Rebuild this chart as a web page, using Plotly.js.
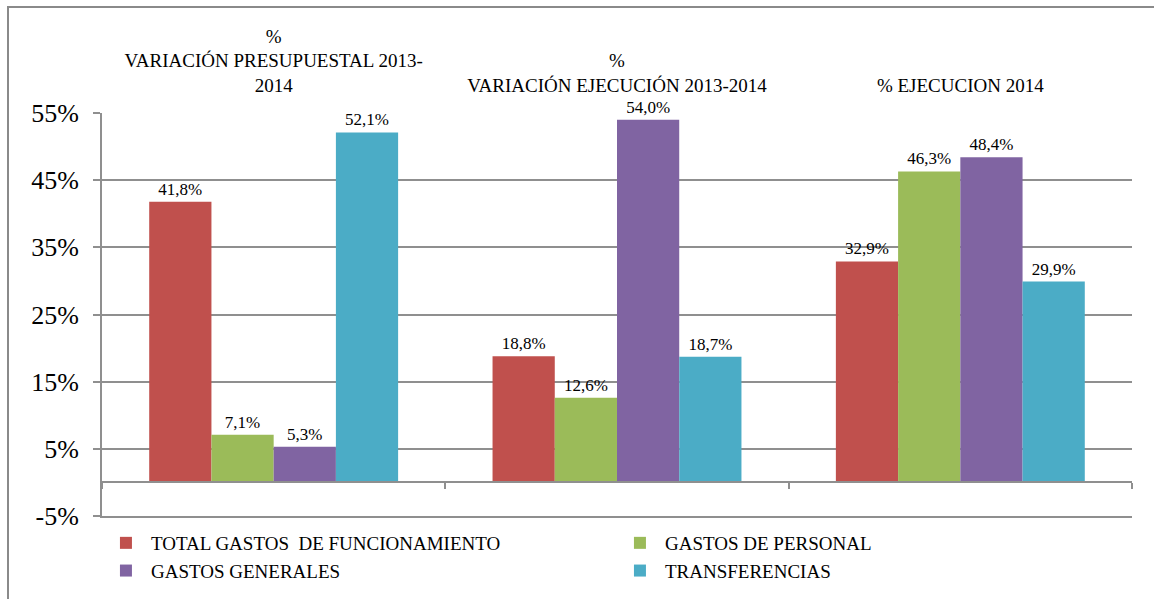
<!DOCTYPE html>
<html>
<head>
<meta charset="utf-8">
<script src="https://cdn.plot.ly/plotly-3.0.1.min.js"></script>
<style>html,body{margin:0;padding:0;background:#fff;}#chart{width:1154px;height:599px;}</style>
</head>
<body>
<div id="chart"></div>
<script>
const categories = [
  "%<br>VARIACIÓN PRESUPUESTAL 2013-<br>2014",
  "%<br>VARIACIÓN EJECUCIÓN 2013-2014",
  "% EJECUCION 2014"
];
const seriesNames = [
  "TOTAL GASTOS \u00a0DE FUNCIONAMIENTO",
  "GASTOS DE PERSONAL",
  "GASTOS GENERALES",
  "TRANSFERENCIAS"
];
const totalFuncionamiento = [41.8, 18.8, 32.9];
const gastosPersonal = [7.1, 12.6, 46.3];
const gastosGenerales = [5.3, 54.0, 48.4];
const transferencias = [52.1, 18.7, 29.9];
const yTickVals = [-5, 5, 15, 25, 35, 45, 55];
const colors = ["#C0504D", "#9BBB59", "#8064A2", "#4BACC6"];

const allValues = [totalFuncionamiento, gastosPersonal, gastosGenerales, transferencias];
const serif = "'Liberation Serif', 'DejaVu Serif', serif";
const gridColor = "#8f8f8f";

// plot area: left 102px, axes end at 1132px; margin.r = 0 so legend pad is 0
const W = 1154, L = 102, PW = W - L;
const xDomain = [0, (1132 - L) / PW];

const traces = allValues.map((vals, i) => ({
  type: "bar",
  name: seriesNames[i],
  x: categories,
  y: vals,
  marker: { color: colors[i], line: { width: 0 } },
  text: vals.map(v => v.toFixed(1).replace(".", ",") + "%"),
  textposition: "outside",
  textfont: { family: serif, size: 17, color: "#000" },
  cliponaxis: false,
  hoverinfo: "skip"
}));
// empty helper traces so the extra axes (bottom line, zero-line ticks) are drawn
traces.push({ type: "scatter", x: [], y: [], xaxis: "x2", yaxis: "y", showlegend: false, hoverinfo: "skip" });
traces.push({ type: "scatter", x: [], y: [], xaxis: "x3", yaxis: "y", showlegend: false, hoverinfo: "skip" });

const layout = {
  width: W,
  height: 599,
  margin: { l: L, r: 0, t: 113, b: 83 },
  paper_bgcolor: "#fff",
  plot_bgcolor: "rgba(0,0,0,0)",
  barmode: "group",
  bargap: 0.275,
  bargroupgap: 0,
  showlegend: true,
  legend: {
    orientation: "h",
    x: -0.001, xanchor: "left",
    y: -(590 - 516) / 403, yanchor: "bottom",
    itemwidth: 40,
    entrywidth: 459,
    font: { family: serif, size: 19, color: "#000" },
    traceorder: "normal",
    itemclick: false
  },
  xaxis: {
    type: "category",
    domain: xDomain,
    side: "top",
    showline: false,
    showgrid: false,
    zeroline: false,
    ticks: "",
    ticklabelstandoff: 16,
    tickfont: { family: serif, size: 19, color: "#000" }
  },
  xaxis2: {
    overlaying: "x",
    domain: xDomain,
    anchor: "y",
    side: "bottom",
    range: [-0.5, 2.5],
    showline: true,
    linecolor: gridColor,
    linewidth: 2,
    ticks: "",
    showticklabels: false,
    showgrid: false,
    zeroline: false
  },
  xaxis3: {
    overlaying: "x",
    domain: xDomain,
    anchor: "free",
    position: 5 / 60,
    range: [-0.5, 2.5],
    tickvals: [-0.5, 0.5, 1.5, 2.5],
    ticks: "outside",
    ticklen: 6,
    tickwidth: 2,
    tickcolor: gridColor,
    showticklabels: false,
    showline: true,
    linecolor: gridColor,
    linewidth: 2,
    showgrid: false,
    zeroline: false
  },
  yaxis: {
    range: [-5, 55],
    tickvals: yTickVals,
    ticktext: yTickVals.map(v => v + "%"),
    showgrid: true,
    gridcolor: gridColor,
    gridwidth: 2,
    zeroline: false,
    showline: true,
    linecolor: gridColor,
    linewidth: 2,
    ticks: "outside",
    ticklen: 7,
    tickwidth: 2,
    tickcolor: gridColor,
    ticklabelstandoff: 9,
    tickfont: { family: serif, size: 26, color: "#000" }
  },
  shapes: [{
    type: "rect",
    xref: "paper", yref: "paper",
    x0: (8 - L) / PW, x1: 1.05,
    y0: -0.4, y1: (516 - 7) / 403,
    line: { color: "#8a8a8a", width: 2 },
    fillcolor: "rgba(0,0,0,0)",
    layer: "below"
  }]
};

Plotly.newPlot("chart", traces, layout, { displayModeBar: false, staticPlot: true });
</script>
</body>
</html>
